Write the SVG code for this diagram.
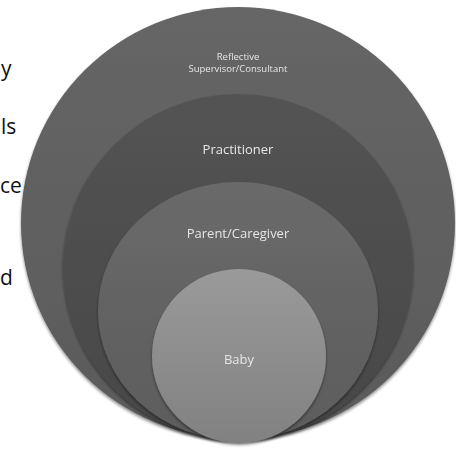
<svg xmlns="http://www.w3.org/2000/svg" width="456" height="450" viewBox="0 0 456 450">
  <style>
    .side { font-family: "Open Sans", "Liberation Sans", sans-serif; font-size: 21px; fill: #111; }
    .lbl { font-family: "Open Sans", "Liberation Sans", sans-serif; fill: #e6e6e6; text-anchor: middle; }
  </style>
  <defs>
    <linearGradient id="gOuter" x1="0" y1="0" x2="0" y2="1">
      <stop offset="0" stop-color="#666"/>
      <stop offset="1" stop-color="#5a5a5a"/>
    </linearGradient>
    <linearGradient id="gPrac" x1="0" y1="0" x2="0" y2="1">
      <stop offset="0" stop-color="#535353"/>
      <stop offset="1" stop-color="#484848"/>
    </linearGradient>
    <linearGradient id="gParent" x1="0" y1="0" x2="0" y2="1">
      <stop offset="0" stop-color="#6a6a6a"/>
      <stop offset="1" stop-color="#5c5c5c"/>
    </linearGradient>
    <linearGradient id="gBaby" x1="0" y1="0" x2="0" y2="1">
      <stop offset="0" stop-color="#9a9a9a"/>
      <stop offset="1" stop-color="#818181"/>
    </linearGradient>
    <filter id="shadow" x="-10%" y="-10%" width="120%" height="120%">
      <feGaussianBlur in="SourceAlpha" stdDeviation="1.5"/>
      <feOffset dx="0" dy="1.5" result="b"/>
      <feComponentTransfer><feFuncA type="linear" slope="0.45"/></feComponentTransfer>
      <feMerge><feMergeNode/><feMergeNode in="SourceGraphic"/></feMerge>
    </filter>
  </defs>

  <!-- ends of body-text lines running in from the left -->
  <g id="side-text">
    <text class="side" x="1" y="76">y</text>
    <text class="side" x="1" y="134">ls</text>
    <text class="side" x="0" y="193">ce</text>
    <text class="side" x="0" y="285">d</text>
  </g>

  <g id="connectors"></g>

  <!-- nested rings, outermost first -->
  <g id="supervisor" filter="url(#shadow)">
    <ellipse cx="238" cy="223" rx="217" ry="216" fill="url(#gOuter)"/>
    <text class="lbl" x="238" y="60" font-size="9.5">Reflective</text>
    <text class="lbl" x="238" y="72" font-size="9.5">Supervisor/Consultant</text>
  </g>
  <g id="practitioner" filter="url(#shadow)">
    <ellipse cx="238" cy="267" rx="175" ry="173" fill="url(#gPrac)"/>
    <text class="lbl" x="238" y="154" font-size="13">Practitioner</text>
  </g>
  <g id="parent" filter="url(#shadow)">
    <ellipse cx="238" cy="311" rx="140" ry="129" fill="url(#gParent)"/>
    <text class="lbl" x="238" y="238" font-size="13">Parent/Caregiver</text>
  </g>
  <g id="baby" filter="url(#shadow)">
    <ellipse cx="239" cy="356" rx="87" ry="87" fill="url(#gBaby)"/>
    <text class="lbl" x="239" y="364" font-size="13">Baby</text>
  </g>
</svg>
